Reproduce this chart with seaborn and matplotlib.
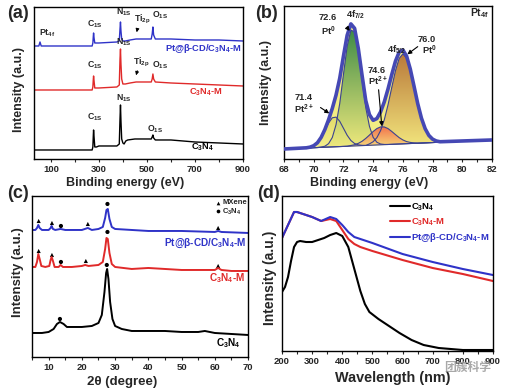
import numpy as np
import seaborn as sns
import matplotlib.pyplot as plt
from matplotlib.patches import PathPatch
from matplotlib.colors import to_rgba

sns.set_style("ticks")
plt.rcParams['font.family'] = ['Liberation Sans', 'DejaVu Sans']
plt.rcParams['font.weight'] = 'bold'
plt.rcParams['axes.labelweight'] = 'bold'
plt.rcParams['mathtext.fontset'] = 'custom'
plt.rcParams['mathtext.rm'] = 'Liberation Sans:bold'
plt.rcParams['mathtext.it'] = 'Liberation Sans:bold'
plt.rcParams['mathtext.bf'] = 'Liberation Sans:bold'
plt.rcParams['mathtext.default'] = 'rm'

BLUE = '#2f33c8'
RED = '#e02a2a'

# (a) XPS survey, offsets in arbitrary units
a_be_black = [30, 272, 275, 277, 278, 280, 283, 290, 300, 375, 385, 388, 390, 392, 395, 400, 405,
              412, 420, 450, 500, 518, 522, 525, 528, 535, 600, 700, 800, 900]
a_black = [9, 9, 12, 24, 29, 22, 12, 12, 13, 13, 15, 40, 54, 38, 20, 16, 15, 18, 19, 20, 20, 20,
           22, 24, 21, 19, 19, 17, 16, 15]
a_be_red = [30, 272, 275, 277, 278, 280, 283, 290, 300, 375, 385, 388, 390, 392, 395, 400, 410,
            430, 455, 470, 518, 522, 525, 528, 535, 600, 700, 800, 900]
a_red = [69, 69, 72, 80, 83, 78, 71, 71, 71, 72, 74, 100, 110, 95, 80, 75, 75, 76, 77, 77, 77,
         80, 85, 80, 77, 76, 75, 74, 73]
a_be_blue = [30, 50, 55, 60, 70, 272, 275, 277, 278, 280, 283, 290, 300, 375, 385, 388, 390, 392,
             395, 400, 410, 430, 455, 470, 518, 522, 525, 528, 535, 600, 700, 800, 900]
a_blue = [113, 113, 117, 113, 113, 113, 116, 123, 126, 121, 116, 116, 116, 117, 118, 130, 137,
          128, 120, 118, 118, 119, 120, 120, 120, 125, 132, 124, 120, 120, 119, 119, 118]

# (b) Pt 4f fit components on a common energy grid
b_grid = np.arange(69.5, 78.51, 0.25)
b_bg_ends = [10, 19]
b_pt2_714 = [0.2, 0.7, 2, 4.8, 9.7, 16.7, 24, 29.1, 29.6, 25.3, 18.2, 11, 5.6, 2.4, 0.9, 0.3] + [0] * 21
b_pt0_726 = [0, 0, 0, 0, 0.3, 1, 3.4, 9.4, 22, 43, 72, 100, 116, 114, 94, 66, 38, 19, 7.8, 2.7,
             0.8, 0.2] + [0] * 15
b_pt2_746 = [0] * 12 + [0.6, 1.2, 2.4, 4.3, 7, 10.2, 13.6, 16.4, 17.9, 17.7, 15.9, 12.9, 9.6,
                        6.4, 3.9, 2.1, 1.1, 0.5] + [0] * 7
b_pt0_760 = [0] * 17 + [1.4, 3.4, 7.3, 14.2, 24.9, 39.6, 56.7, 73.3, 85.5, 90, 85.5, 73.3, 56.7,
                        39.6, 24.9, 14.2, 7.3, 3.4, 1.4, 0.5]

# (c) XRD
c_tt_black = [5, 8, 10, 11.5, 12.5, 13.4, 14.5, 15.5, 17, 20, 23, 25, 26, 26.8, 27.3, 27.6, 28,
              28.5, 29.2, 30, 32, 35, 40, 45, 50, 55, 57, 60, 65, 70]
c_black = [24, 24, 25, 28, 33, 35, 33, 30, 30, 30, 31, 34, 42, 65, 84, 88, 78, 55, 38, 31, 28,
           26, 26, 26, 25, 25, 26, 24, 23, 22]
c_tt_red = [5, 6, 6.5, 6.9, 7.3, 7.8, 9, 10.2, 10.6, 10.9, 11.3, 11.8, 13, 13.6, 14.3, 17, 20,
            21, 22, 25, 26.3, 27, 27.4, 27.8, 28.3, 29, 30, 35, 40, 45, 50, 55, 60, 61, 62, 65, 70]
c_red = [90, 90, 95, 103, 98, 91, 90, 91, 97, 100, 96, 90, 90, 92, 90, 90, 91, 92, 91, 92, 95,
         108, 119, 118, 104, 93, 90, 88, 89, 88, 87, 87, 87, 89, 87, 86, 86]
c_tt_blue = [5, 6, 6.5, 6.9, 7.3, 8, 10, 10.6, 10.9, 11.3, 12, 13.6, 15, 20, 21.8, 23, 25, 26.3,
             27, 27.4, 27.8, 28.3, 29, 30, 35, 40, 50, 60, 61, 62, 70]
c_blue = [127, 127, 129, 132, 129, 127, 127, 129, 131, 128, 127, 128, 127, 127, 129, 127, 128,
          130, 139, 147, 148, 138, 130, 128, 127, 126, 126, 125, 126, 125, 124]
c_mxene_x = [7, 11, 21.8, 61, 7, 11, 21.2, 61]
c_mxene_y = [136, 134, 133, 129, 106, 102, 96, 91]
c_cn_x = [13.7, 27.7, 13.7, 27.7, 13.4, 27.5]
c_cn_y = [131, 153, 95, 125, 38, 92]

# (d) UV-vis DRS
d_wl_black = [200, 210, 220, 230, 240, 250, 260, 280, 300, 320, 340, 360, 380, 400, 420, 440,
              460, 475, 490, 520, 540, 590, 630, 670, 720, 800, 900]
d_black = [59, 64, 74, 90, 104, 109, 110, 109, 109, 111, 113, 116, 118, 115, 104, 82, 60, 47, 39,
           32, 28, 18, 11, 6, 3, 1, 1]
d_wl = [200, 220, 240, 250, 260, 280, 300, 330, 345, 360, 380, 400, 420, 440, 460, 500, 600, 700,
        800, 900]
d_red = [113, 126, 139, 139, 138, 136, 134, 130, 131, 132, 130, 121, 112, 107, 104, 100, 91, 83,
         77, 70]
d_blue = [113, 126, 139, 139, 138, 136, 134, 130, 132, 134, 132, 126, 119, 114, 112, 108, 97, 89,
          82, 76]


def style_axes(ax, major, minor, fs):
    ax.set_yticks([])
    ax.set_xticks(major)
    ax.set_xticks(minor, minor=True)
    ax.tick_params(axis='x', which='major', length=2.5, width=0.8, pad=1.5, labelsize=fs, direction='out')
    ax.tick_params(axis='x', which='minor', length=1.8, width=0.8, direction='out')
    for s in ax.spines.values():
        s.set_color('black')
        s.set_linewidth(1.0)


def set_labels(ax, xl, xfs, xpos, yfs, ypos):
    ax.set_xlabel(xl, fontsize=xfs, va='center')
    ax.xaxis.set_label_coords(*xpos)
    ax.set_ylabel('Intensity (a.u.)', fontsize=yfs, va='center')
    ax.yaxis.set_label_coords(*ypos)


def gradient_fill(ax, x, lo, hi, c_top, c_bot, z):
    poly = ax.fill_between(x, lo, hi, facecolor='none', edgecolor='none')
    patch = PathPatch(poly.get_paths()[0], transform=ax.transData, facecolor='none', edgecolor='none')
    ax.add_patch(patch)
    t = np.linspace(0, 1, 200)[:, None]
    top = np.array(to_rgba(c_top))
    bot = np.array(to_rgba(c_bot))
    img = (bot + (top - bot) * t)[:, None, :]
    im = ax.imshow(img, extent=[min(x), max(x), min(lo), max(hi)], origin='lower',
                   aspect='auto', zorder=z)
    im.set_clip_path(patch)


fig = plt.figure(figsize=(5.09, 3.91), dpi=100)

# ---------------- (a)
ax = fig.add_axes([0.0668, 0.5934, 0.4106, 0.3887])
sns.lineplot(x=a_be_black, y=a_black, color='black', lw=1.0, ax=ax, estimator=None, sort=False)
sns.lineplot(x=a_be_red, y=a_red, color=RED, lw=1.0, ax=ax, estimator=None, sort=False)
sns.lineplot(x=a_be_blue, y=a_blue, color=BLUE, lw=1.0, ax=ax, estimator=None, sort=False)
ax.set_xlim(30, 900)
ax.set_ylim(0, 152)
style_axes(ax, [100, 300, 500, 700, 900], [200, 400, 600, 800], 6.8)
set_labels(ax, 'Binding energy (eV)', 9, (0.435, -0.158), 9, (-0.072, 0.46))
fs = 6.3
for x, y, s in [(50, 126, 'Pt$_{4f}$'), (284, 135, 'C$_{1S}$'), (405, 147, 'N$_{1S}$'),
                (482, 140, 'Ti$_{2p}$'), (554, 144, 'O$_{1S}$'),
                (284, 94, 'C$_{1S}$'), (406, 117, 'N$_{1S}$'), (478, 97, 'Ti$_{2p}$'),
                (554, 94, 'O$_{1S}$'), (284, 42, 'C$_{1S}$'), (406, 61, 'N$_{1S}$'),
                (536, 30, 'O$_{1S}$')]:
    ax.text(x, y, s, ha='left' if s.startswith('Pt') else 'center', va='center', fontsize=fs)
for tail, tip in [((463, 133), (455, 124)), ((463, 91), (452, 81))]:
    ax.annotate('', xy=tip, xytext=tail,
                arrowprops=dict(arrowstyle='-|>', lw=0.7, color='black', mutation_scale=5))
ax.text(895, 110, 'Pt@β-CD/C$_3$N$_4$-M', color=BLUE, ha='right', va='center', fontsize=6.7)
ax.text(746, 67, 'C$_3$N$_4$-M', color=RED, ha='center', va='center', fontsize=6.7)
ax.text(733, 12, 'C$_3$N$_4$', color='black', ha='center', va='center', fontsize=6.7)

# ---------------- (b)
ax = fig.add_axes([0.558, 0.5934, 0.4086, 0.3913])
bg = np.interp(b_grid, [68, 82], b_bg_ends)
comps = [np.array(b_pt2_714), np.array(b_pt0_726), np.array(b_pt2_746), np.array(b_pt0_760)]
env = bg + sum(comps)
x_full = np.concatenate([[68], b_grid, [82]])
env_full = np.concatenate([[b_bg_ends[0]], env, [b_bg_ends[1]]])
bg_full = np.interp(x_full, [68, 82], b_bg_ends)
ax.fill_between(x_full, bg_full, env_full, color='#f2ec84', lw=0, zorder=1)
gradient_fill(ax, b_grid, bg, bg + comps[0], '#e3dc6a', '#f3ee8c', 2)
gradient_fill(ax, b_grid, bg, bg + comps[1], '#3f8c48', '#efe97c', 2)
gradient_fill(ax, b_grid, bg, bg + comps[3], '#b9793a', '#f3e77e', 2)
gradient_fill(ax, b_grid, bg, bg + comps[2], '#f2704c', '#f6de7c', 3)
for c in comps:
    sns.lineplot(x=b_grid, y=bg + c, color='#3b4290', lw=0.8, ax=ax, estimator=None, sort=False, zorder=4)
sns.lineplot(x=x_full, y=env_full, color='#4548b4', lw=2.6, ax=ax, estimator=None, sort=False, zorder=5)
ax.set_xlim(68, 82)
ax.set_ylim(0, 153)
style_axes(ax, list(range(68, 83, 2)), list(range(69, 82, 2)), 6.8)
set_labels(ax, 'Binding energy (eV)', 9, (0.411, -0.157), 9, (-0.087, 0.503))
ax.text(81.8, 146, 'Pt$_{4f}$', ha='right', va='center', fontsize=7.5)
for x, y, s in [(70.95, 141, '72.6'), (71.0, 128, 'Pt$^0$'), (72.8, 144, '4f$_{7/2}$'),
                (69.3, 61, '71.4'), (69.3, 50, 'Pt$^{2+}$'),
                (74.26, 88, '74.6'), (74.3, 78, 'Pt$^{2+}$'),
                (75.6, 109, '4f$_{5/2}$'), (77.6, 119, '76.0'), (77.8, 109, 'Pt$^0$')]:
    ax.text(x, y, s, ha='center', va='center', fontsize=6.7, zorder=6)
for tail, tip in [((72.15, 133), (72.55, 126)), ((70.3, 53), (71.2, 44)),
                  ((74.35, 72), (74.6, 30)), ((77.15, 114), (76.15, 103))]:
    ax.annotate('', xy=tip, xytext=tail, zorder=7,
                arrowprops=dict(arrowstyle='-|>', lw=0.8, color='black', mutation_scale=6))

# ---------------- (c)
ax = fig.add_axes([0.0629, 0.0870, 0.4244, 0.4118])
sns.lineplot(x=c_tt_black, y=c_black, color='black', lw=1.4, ax=ax, estimator=None, sort=False)
sns.lineplot(x=c_tt_red, y=c_red, color=RED, lw=1.4, ax=ax, estimator=None, sort=False)
sns.lineplot(x=c_tt_blue, y=c_blue, color=BLUE, lw=1.4, ax=ax, estimator=None, sort=False)
sns.scatterplot(x=c_mxene_x, y=c_mxene_y, marker='^', s=9, color='black', edgecolor='none', ax=ax)
sns.scatterplot(x=c_cn_x, y=c_cn_y, marker='o', s=9, color='black', edgecolor='none', ax=ax)
ax.set_xlim(5, 70)
ax.set_ylim(0, 161)
style_axes(ax, list(range(10, 71, 10)), list(range(5, 70, 10)), 6.8)
set_labels(ax, '2θ (degree)', 9.5, (0.417, -0.153), 9.5, (-0.065, 0.528))
ax.scatter([61.1], [154], marker='^', s=7, color='black', lw=0)
ax.scatter([61.1], [145.5], marker='o', s=7, color='black', lw=0)
ax.text(62.3, 154, 'MXene', ha='left', va='center', fontsize=5.5)
ax.text(62.3, 145.5, 'C$_3$N$_4$', ha='left', va='center', fontsize=5.5)
ax.text(69.5, 114, 'Pt@β-CD/C$_3$N$_4$-M', color=BLUE, ha='right', va='center', fontsize=7.2)
ax.text(63.7, 79, 'C$_3$N$_4$-M', color=RED, ha='center', va='center', fontsize=7.2)
ax.text(64, 14, 'C$_3$N$_4$', color='black', ha='center', va='center', fontsize=7.2)

# ---------------- (d)
ax = fig.add_axes([0.554, 0.1023, 0.4145, 0.3964])
sns.lineplot(x=d_wl_black, y=d_black, color='black', lw=1.5, ax=ax, estimator=None, sort=False,
             label='C$_3$N$_4$')
sns.lineplot(x=d_wl, y=d_red, color=RED, lw=1.5, ax=ax, estimator=None, sort=False,
             label='C$_3$N$_4$-M')
sns.lineplot(x=d_wl, y=d_blue, color=BLUE, lw=1.5, ax=ax, estimator=None, sort=False,
             label='Pt@β-CD/C$_3$N$_4$-M')
ax.set_xlim(200, 900)
ax.set_ylim(0, 155)
style_axes(ax, list(range(200, 901, 100)), list(range(250, 900, 100)), 6.8)
set_labels(ax, 'Wavelength (nm)', 10.4, (0.526, -0.174), 10, (-0.057, 0.474))
ax.legend(loc='upper left', bbox_to_anchor=(0.47, 1.02), frameon=False, fontsize=6.8,
          handlelength=2.2, handletextpad=0.1, labelspacing=0.35, labelcolor='linecolor')

# panel letters
for x, y, s in [(18, 14, '(a)'), (267, 13, '(b)'), (18, 194, '(c)'), (268, 194, '(d)')]:
    fig.text(x / 509, 1 - y / 391, s, ha='center', va='center', fontsize=13, fontweight='bold')

# watermark
fig.text(468 / 509, 1 - 367 / 391, '团簇科学', ha='center', va='center', fontsize=8.5,
         color='#9a9a9a', alpha=0.85, family=['Noto Sans CJK SC', 'DejaVu Sans'])

fig.savefig('out.png', dpi=100)
